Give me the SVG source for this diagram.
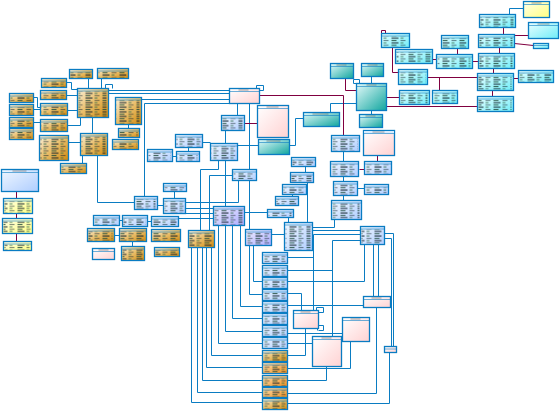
<svg xmlns="http://www.w3.org/2000/svg" width="560" height="411" viewBox="0 0 560 411">
<style>
.r{stroke:#0a7cc2;stroke-width:1.3}
.h{stroke:#0a7cc2;stroke-width:.6;fill:none}
.x{fill:url(#tx)}
.tt{fill:#555;opacity:.55}
.t .r{fill:url(#gt)}
.b .r{fill:url(#gb)}
.l .r{fill:url(#gl)}
.p .r{fill:url(#gp)}
.o .r{fill:url(#go)}
.c .r{fill:url(#gc)}
.g .r{fill:url(#gg)}
.y .r{fill:url(#gy)}
#conn path{fill:none;stroke:#0a7cc2;stroke-width:1}
#conn path.m{stroke:#800040}
</style>
<defs>
<linearGradient id="gt" x1="0" y1="0" x2="1" y2="1"><stop offset="0" stop-color="#fbf1dc"/><stop offset=".5" stop-color="#e9bd68"/><stop offset="1" stop-color="#cf880c"/></linearGradient>
<linearGradient id="gb" x1="0" y1="0" x2="1" y2="1"><stop offset="0" stop-color="#f0f7ff"/><stop offset="1" stop-color="#aecdff"/></linearGradient>
<linearGradient id="gl" x1="0" y1="0" x2="1" y2="1"><stop offset="0" stop-color="#f0f0ff"/><stop offset="1" stop-color="#acacff"/></linearGradient>
<linearGradient id="gp" x1="0" y1="0" x2="1" y2="1"><stop offset="0" stop-color="#ffffff"/><stop offset="1" stop-color="#ffd2d2"/></linearGradient>
<linearGradient id="go" x1="0" y1="0" x2="1" y2="1"><stop offset="0" stop-color="#fde2b8"/><stop offset="1" stop-color="#ee8e1c"/></linearGradient>
<linearGradient id="gc" x1="0" y1="0" x2="1" y2="1"><stop offset="0" stop-color="#eaffff"/><stop offset="1" stop-color="#6eecf8"/></linearGradient>
<linearGradient id="gg" x1="0" y1="0" x2="1" y2="1"><stop offset="0" stop-color="#e4fafa"/><stop offset="1" stop-color="#0fa59e"/></linearGradient>
<linearGradient id="gy" x1="0" y1="0" x2="1" y2="1"><stop offset="0" stop-color="#ffffea"/><stop offset="1" stop-color="#ffff80"/></linearGradient>
<pattern id="tx" width="17" height="4.6" patternUnits="userSpaceOnUse"><rect x="0" y=".4" width="7" height="1.1" fill="#10202c" opacity=".85"/><rect x="9" y=".4" width="3" height="1.1" fill="#2c6a48" opacity=".7"/><rect x="0" y="2.7" width="5" height="1.1" fill="#1c4a38" opacity=".8"/><rect x="9" y="2.7" width="5" height="1.1" fill="#10202c" opacity=".5"/></pattern>
</defs>
<g transform="translate(.5,.5)">
<g id="conn">
<path d="M66 82H71V89H77"/><path d="M88 78V88"/><path d="M101 78V88"/><path d="M66 95H77"/>
<path d="M33 97H37V107H40"/><path d="M33 109H40"/><path d="M67 110H77"/><path d="M33 122H40"/>
<path d="M67 125H80V117"/><path d="M92 117V133"/><path d="M68 142H80"/><path d="M82 155V163"/>
<path d="M105 88V84H112V88"/><path d="M108 90H229"/><path d="M108 93H229"/><path d="M141 99H229"/>
<path d="M229 103H144V196"/><path d="M128 124V128"/><path d="M97 155V202H134"/>
<path d="M119 220H122"/><path d="M114 235H119"/><path d="M132 241V246"/><path d="M147 221H151"/>
<path d="M157 205H163"/><path d="M174 191V198"/><path d="M172 156H176"/><path d="M188 147V151"/>
<path d="M202 142H210"/><path d="M237 145H258"/><path d="M237 103V115"/><path d="M249 103V229"/>
<path d="M225 130V143"/><path d="M225 160V206"/><path d="M218 160V169H200V230"/><path d="M232 175H209V230"/>
<path d="M185 202H238V180"/><path d="M185 208H213"/><path d="M185 213H213"/><path d="M178 218H213"/>
<path d="M244 212H267"/><path d="M271 234H284"/>
<path d="M253 245V281H262"/><path d="M249 245V294H262"/>
<path d="M240 225V306H262"/><path d="M232 225V318H262"/><path d="M225 225V331H262"/><path d="M218 225V343H262"/>
<path d="M211 247V355H262"/><path d="M206 247V367H262"/><path d="M202 247V380H262"/><path d="M197 247V392H262"/><path d="M191 247V402H262"/>
<path d="M287 257H313"/><path d="M287 270H332"/><path d="M287 281H364V244"/>
<path d="M312 227H334V219"/><path d="M312 230H360"/><path d="M360 234H313V310"/><path d="M360 240H332V336"/>
<path d="M384 233H393V346"/><path d="M384 238H391V346"/><path d="M373 244V296"/><path d="M378 244V296"/>
<path d="M287 293H301V310"/><path d="M287 305H363"/><path d="M305 328V355H287"/><path d="M287 333H342"/>
<path d="M287 343H312"/><path d="M287 368H350V341"/><path d="M287 380H326V366"/><path d="M287 393H376V307"/><path d="M287 403H389V352"/>
<path d="M316 312V307H323V312H318"/><path d="M317 330V325H323V330H318"/>
<path d="M343 151V161"/><path d="M343 176V181"/><path d="M357 188H364"/><path d="M343 195V200"/>
<path d="M305 166V172"/><path d="M307 182V222"/><path d="M292 194V196"/><path d="M288 217V222"/>
<path d="M289 145H295V118H303"/><path d="M330 112V103H356"/><path d="M371 76V83"/><path d="M371 110V114"/>
<path d="M356 83H353V79H359V83"/><path d="M509 14V8H523"/><path d="M256 88V85H263V90H259"/>
<path class="m" d="M259 95H343V135"/><path class="m" d="M244 123H257"/><path class="m" d="M359 169H364"/><path class="m" d="M377 155V161"/>
<path class="m" d="M345 78V90H356"/><path class="m" d="M386 97H399"/><path class="m" d="M386 106H477"/><path class="m" d="M392 47V72H398"/>
<path class="m" d="M381 33V30H385V33"/><path class="m" d="M503 27V34"/><path class="m" d="M514 35H528"/><path class="m" d="M514 43L533 45"/>
<path class="m" d="M457 48V54"/><path class="m" d="M499 47V53"/><path class="m" d="M472 61H478"/><path class="m" d="M432 59H436"/>
<path class="m" d="M493 68V73"/><path class="m" d="M427 77H477"/><path class="m" d="M439 77V90"/><path class="m" d="M513 78H518"/>
<path class="m" d="M492 90V96"/><path class="m" d="M16 191V198"/><path class="m" d="M16 213V218"/><path class="m" d="M16 233V241"/>
</g>
<g id="t1" class="t"><rect class="r" x="69" y="69" width="23" height="9"/><path class="h" d="M69 71.5h23"/><rect class="x" x="70" y="72" width="20" height="5"/></g>
<g id="t2" class="t"><rect class="r" x="97" y="68" width="31" height="10"/><path class="h" d="M97 70.5h31"/><rect class="x" x="98" y="71" width="28" height="6"/></g>
<g id="t3" class="t"><rect class="r" x="41" y="78" width="25" height="9"/><path class="h" d="M41 80.5h25"/><rect class="x" x="42" y="81" width="22" height="5"/></g>
<g id="t4" class="t"><rect class="r" x="40" y="90" width="26" height="9"/><path class="h" d="M40 92.5h26"/><rect class="x" x="41" y="93" width="23" height="5"/></g>
<g id="t5" class="t"><rect class="r" x="9" y="93" width="24" height="9"/><path class="h" d="M9 95.5h24"/><rect class="x" x="10" y="96" width="21" height="5"/></g>
<g id="t6" class="t"><rect class="r" x="9" y="104" width="24" height="11"/><path class="h" d="M9 106.5h24"/><rect class="x" x="10" y="107" width="21" height="7"/></g>
<g id="t7" class="t"><rect class="r" x="40" y="103" width="27" height="12"/><path class="h" d="M40 105.5h27"/><rect class="x" x="41" y="106" width="24" height="8"/></g>
<g id="t8" class="t"><rect class="r" x="9" y="117" width="24" height="10"/><path class="h" d="M9 119.5h24"/><rect class="x" x="10" y="120" width="21" height="6"/></g>
<g id="t9" class="t"><rect class="r" x="40" y="119" width="27" height="12"/><path class="h" d="M40 121.5h27"/><rect class="x" x="41" y="122" width="24" height="8"/></g>
<g id="t10" class="t"><rect class="r" x="9" y="128" width="24" height="11"/><path class="h" d="M9 130.5h24"/><rect class="x" x="10" y="131" width="21" height="7"/></g>
<g id="t11" class="t"><rect class="r" x="77" y="88" width="31" height="29"/><path class="h" d="M77 90.5h31"/><rect class="x" x="78" y="91" width="28" height="25"/></g>
<g id="t12" class="t"><rect class="r" x="115" y="97" width="26" height="27"/><path class="h" d="M115 99.5h26"/><rect class="x" x="116" y="100" width="23" height="23"/></g>
<g id="t13" class="t"><rect class="r" x="118" y="128" width="21" height="9"/><path class="h" d="M118 130.5h21"/><rect class="x" x="119" y="131" width="18" height="5"/></g>
<g id="t14" class="t"><rect class="r" x="39" y="135" width="29" height="25"/><path class="h" d="M39 137.5h29"/><rect class="x" x="40" y="138" width="26" height="21"/></g>
<g id="t15" class="t"><rect class="r" x="80" y="133" width="27" height="22"/><path class="h" d="M80 135.5h27"/><rect class="x" x="81" y="136" width="24" height="18"/></g>
<g id="t16" class="t"><rect class="r" x="60" y="163" width="26" height="10"/><path class="h" d="M60 165.5h26"/><rect class="x" x="61" y="166" width="23" height="6"/></g>
<g id="t17" class="t"><rect class="r" x="112" y="139" width="26" height="10"/><path class="h" d="M112 141.5h26"/><rect class="x" x="113" y="142" width="23" height="6"/></g>
<g id="t18" class="t"><rect class="r" x="87" y="228" width="27" height="13"/><path class="h" d="M87 230.5h27"/><rect class="x" x="88" y="231" width="24" height="9"/></g>
<g id="t19" class="t"><rect class="r" x="119" y="228" width="27" height="13"/><path class="h" d="M119 230.5h27"/><rect class="x" x="120" y="231" width="24" height="9"/></g>
<g id="t20" class="t"><rect class="r" x="151" y="229" width="29" height="12"/><path class="h" d="M151 231.5h29"/><rect class="x" x="152" y="232" width="26" height="8"/></g>
<g id="t21" class="t"><rect class="r" x="154" y="247" width="25" height="9"/><path class="h" d="M154 249.5h25"/><rect class="x" x="155" y="250" width="22" height="5"/></g>
<g id="t22" class="t"><rect class="r" x="188" y="230" width="26" height="17"/><path class="h" d="M188 232.5h26"/><rect class="x" x="189" y="233" width="23" height="13"/></g>
<g id="t23" class="t"><rect class="r" x="121" y="246" width="23" height="14"/><path class="h" d="M121 248.5h23"/><rect class="x" x="122" y="249" width="20" height="10"/></g>
<g id="b1" class="b"><rect class="r" x="175" y="134" width="27" height="13"/><path class="h" d="M175 136.5h27"/><rect class="x" x="176" y="137" width="24" height="9"/></g>
<g id="b2" class="b"><rect class="r" x="147" y="149" width="25" height="12"/><path class="h" d="M147 151.5h25"/><rect class="x" x="148" y="152" width="22" height="8"/></g>
<g id="b3" class="b"><rect class="r" x="176" y="151" width="23" height="10"/><path class="h" d="M176 153.5h23"/><rect class="x" x="177" y="154" width="20" height="6"/></g>
<g id="b4" class="b"><rect class="r" x="210" y="143" width="27" height="17"/><path class="h" d="M210 145.5h27"/><rect class="x" x="211" y="146" width="24" height="13"/></g>
<g id="b5" class="b"><rect class="r" x="221" y="115" width="23" height="15"/><path class="h" d="M221 117.5h23"/><rect class="x" x="222" y="118" width="20" height="11"/></g>
<g id="b6" class="b"><rect class="r" x="232" y="169" width="24" height="11"/><path class="h" d="M232 171.5h24"/><rect class="x" x="233" y="172" width="21" height="7"/></g>
<g id="b7" class="b"><rect class="r" x="163" y="183" width="23" height="8"/><path class="h" d="M163 185.5h23"/><rect class="x" x="164" y="186" width="20" height="4"/></g>
<g id="b8" class="b"><rect class="r" x="134" y="196" width="23" height="13"/><path class="h" d="M134 198.5h23"/><rect class="x" x="135" y="199" width="20" height="9"/></g>
<g id="b9" class="b"><rect class="r" x="163" y="198" width="22" height="15"/><path class="h" d="M163 200.5h22"/><rect class="x" x="164" y="201" width="19" height="11"/></g>
<g id="b10" class="b"><rect class="r" x="122" y="215" width="25" height="11"/><path class="h" d="M122 217.5h25"/><rect class="x" x="123" y="218" width="22" height="7"/></g>
<g id="b11" class="b"><rect class="r" x="151" y="216" width="27" height="10"/><path class="h" d="M151 218.5h27"/><rect class="x" x="152" y="219" width="24" height="6"/></g>
<g id="b12" class="b"><rect class="r" x="93" y="215" width="26" height="10"/><path class="h" d="M93 217.5h26"/><rect class="x" x="94" y="218" width="23" height="6"/></g>
<g id="b13" class="b"><rect class="r" x="331" y="135" width="28" height="16"/><path class="h" d="M331 137.5h28"/><rect class="x" x="332" y="138" width="25" height="12"/></g>
<g id="b14" class="b"><rect class="r" x="330" y="161" width="28" height="15"/><path class="h" d="M330 163.5h28"/><rect class="x" x="331" y="164" width="25" height="11"/></g>
<g id="b15" class="b"><rect class="r" x="364" y="161" width="27" height="13"/><path class="h" d="M364 163.5h27"/><rect class="x" x="365" y="164" width="24" height="9"/></g>
<g id="b16" class="b"><rect class="r" x="333" y="181" width="24" height="14"/><path class="h" d="M333 183.5h24"/><rect class="x" x="334" y="184" width="21" height="10"/></g>
<g id="b17" class="b"><rect class="r" x="364" y="184" width="24" height="10"/><path class="h" d="M364 186.5h24"/><rect class="x" x="365" y="187" width="21" height="6"/></g>
<g id="b18" class="b"><rect class="r" x="331" y="200" width="30" height="19"/><path class="h" d="M331 202.5h30"/><rect class="x" x="332" y="203" width="27" height="15"/></g>
<g id="b19" class="b"><rect class="r" x="291" y="157" width="24" height="9"/><path class="h" d="M291 159.5h24"/><rect class="x" x="292" y="160" width="21" height="5"/></g>
<g id="b20" class="b"><rect class="r" x="290" y="172" width="23" height="10"/><path class="h" d="M290 174.5h23"/><rect class="x" x="291" y="175" width="20" height="6"/></g>
<g id="b21" class="b"><rect class="r" x="282" y="184" width="24" height="10"/><path class="h" d="M282 186.5h24"/><rect class="x" x="283" y="187" width="21" height="6"/></g>
<g id="b22" class="b"><rect class="r" x="275" y="196" width="23" height="9"/><path class="h" d="M275 198.5h23"/><rect class="x" x="276" y="199" width="20" height="5"/></g>
<g id="b23" class="b"><rect class="r" x="267" y="209" width="26" height="8"/><path class="h" d="M267 211.5h26"/><rect class="x" x="268" y="212" width="23" height="4"/></g>
<g id="b24" class="b"><rect class="r" x="284" y="222" width="28" height="28"/><path class="h" d="M284 224.5h28"/><rect class="x" x="285" y="225" width="25" height="24"/></g>
<g id="b25" class="b"><rect class="r" x="360" y="226" width="24" height="18"/><path class="h" d="M360 228.5h24"/><rect class="x" x="361" y="229" width="21" height="14"/></g>
<g id="s1" class="b"><rect class="r" x="262" y="252" width="25" height="11"/><path class="h" d="M262 254.5h25"/><rect class="x" x="263" y="255" width="22" height="7"/></g>
<g id="s2" class="b"><rect class="r" x="262" y="265" width="25" height="11"/><path class="h" d="M262 267.5h25"/><rect class="x" x="263" y="268" width="22" height="7"/></g>
<g id="s3" class="b"><rect class="r" x="262" y="277" width="25" height="11"/><path class="h" d="M262 279.5h25"/><rect class="x" x="263" y="280" width="22" height="7"/></g>
<g id="s4" class="b"><rect class="r" x="262" y="289" width="25" height="11"/><path class="h" d="M262 291.5h25"/><rect class="x" x="263" y="292" width="22" height="7"/></g>
<g id="s5" class="b"><rect class="r" x="262" y="301" width="25" height="11"/><path class="h" d="M262 303.5h25"/><rect class="x" x="263" y="304" width="22" height="7"/></g>
<g id="s6" class="b"><rect class="r" x="262" y="313" width="25" height="11"/><path class="h" d="M262 315.5h25"/><rect class="x" x="263" y="316" width="22" height="7"/></g>
<g id="s7" class="b"><rect class="r" x="262" y="325" width="25" height="11"/><path class="h" d="M262 327.5h25"/><rect class="x" x="263" y="328" width="22" height="7"/></g>
<g id="s8" class="b"><rect class="r" x="262" y="337" width="25" height="11"/><path class="h" d="M262 339.5h25"/><rect class="x" x="263" y="340" width="22" height="7"/></g>
<g id="o1" class="t"><rect class="r" x="262" y="350" width="25" height="11"/><path class="h" d="M262 352.5h25"/><rect class="x" x="263" y="353" width="22" height="7"/></g>
<g id="o2" class="o"><rect class="r" x="262" y="362" width="25" height="11"/><path class="h" d="M262 364.5h25"/><rect class="x" x="263" y="365" width="22" height="7"/></g>
<g id="o3" class="o"><rect class="r" x="262" y="375" width="25" height="11"/><path class="h" d="M262 377.5h25"/><rect class="x" x="263" y="378" width="22" height="7"/></g>
<g id="o4" class="o"><rect class="r" x="262" y="387" width="25" height="10"/><path class="h" d="M262 389.5h25"/><rect class="x" x="263" y="390" width="22" height="6"/></g>
<g id="o5" class="t"><rect class="r" x="262" y="398" width="25" height="11"/><path class="h" d="M262 400.5h25"/><rect class="x" x="263" y="401" width="22" height="7"/></g>
<g id="hb" class="b"><rect class="r" x="1" y="169" width="37" height="22"/><path class="h" d="M1 172h37"/><rect class="tt" x="12" y="170" width="14" height="1"/></g>
<g id="l1" class="l"><rect class="r" x="213" y="206" width="31" height="19"/><path class="h" d="M213 208.5h31"/><rect class="x" x="214" y="209" width="28" height="15"/></g>
<g id="l2" class="l"><rect class="r" x="245" y="229" width="26" height="16"/><path class="h" d="M245 231.5h26"/><rect class="x" x="246" y="232" width="23" height="12"/></g>
<g id="p1" class="p"><rect class="r" x="229" y="88" width="30" height="15"/><path class="h" d="M229 91h30"/><rect class="tt" x="238" y="89" width="10" height="1"/></g>
<g id="p2" class="p"><rect class="r" x="257" y="105" width="31" height="32"/><path class="h" d="M257 108h31"/><rect class="tt" x="266" y="106" width="12" height="1"/></g>
<g id="p3" class="p"><rect class="r" x="363" y="130" width="31" height="25"/><rect x="363.5" y="130.5" width="30" height="2.5" fill="#d8ecff"/><path class="h" d="M363 133h31"/><rect class="tt" x="372" y="131" width="12" height="1"/></g>
<g id="p4" class="p"><rect class="r" x="92" y="248" width="22" height="11"/><path class="h" d="M92 251h22"/><rect class="tt" x="98" y="249" width="10" height="1"/></g>
<g id="p5" class="p"><rect class="r" x="293" y="310" width="25" height="18"/><path class="h" d="M293 313h25"/><rect class="tt" x="300" y="311" width="10" height="1"/></g>
<g id="p6" class="p"><rect class="r" x="342" y="317" width="27" height="24"/><path class="h" d="M342 320h27"/><rect class="tt" x="350" y="318" width="10" height="1" fill="#2a8"/></g>
<g id="p7" class="p"><rect class="r" x="312" y="336" width="29" height="30"/><path class="h" d="M312 339h29"/><rect class="tt" x="321" y="337" width="10" height="1"/></g>
<g id="p8" class="p"><rect class="r" x="363" y="296" width="27" height="11"/><path class="h" d="M363 299h27"/><rect class="tt" x="371" y="297" width="10" height="1"/></g>
<g id="p9" class="p"><rect class="r" x="384" y="346" width="12" height="6"/><path class="h" d="M384 348.5h12"/></g>
<g id="c1" class="c"><rect class="r" x="381" y="33" width="28" height="14"/><path class="h" d="M381 35.5h28"/><rect class="x" x="382" y="36" width="25" height="10"/></g>
<g id="c2" class="c"><rect class="r" x="395" y="49" width="37" height="14"/><path class="h" d="M395 51.5h37"/><rect class="x" x="396" y="52" width="34" height="10"/></g>
<g id="c3" class="c"><rect class="r" x="398" y="69" width="29" height="15"/><path class="h" d="M398 71.5h29"/><rect class="x" x="399" y="72" width="26" height="11"/></g>
<g id="c4" class="c"><rect class="r" x="399" y="90" width="30" height="14"/><path class="h" d="M399 92.5h30"/><rect class="x" x="400" y="93" width="27" height="10"/></g>
<g id="c5" class="c"><rect class="r" x="479" y="14" width="36" height="13"/><path class="h" d="M479 16.5h36"/><rect class="x" x="480" y="17" width="33" height="9"/></g>
<g id="c6" class="c"><rect class="r" x="528" y="22" width="30" height="16"/><path class="h" d="M528 25h30"/><rect class="tt" x="537" y="23" width="12" height="1"/></g>
<g id="c7" class="c"><rect class="r" x="478" y="34" width="36" height="13"/><path class="h" d="M478 36.5h36"/><rect class="x" x="479" y="37" width="33" height="9"/></g>
<g id="c8" class="c"><rect class="r" x="533" y="43" width="15" height="5"/><path class="h" d="M533 45h15"/></g>
<g id="c9" class="c"><rect class="r" x="441" y="35" width="27" height="13"/><path class="h" d="M441 37.5h27"/><rect class="x" x="442" y="38" width="24" height="9"/></g>
<g id="c10" class="c"><rect class="r" x="436" y="54" width="36" height="14"/><path class="h" d="M436 56.5h36"/><rect class="x" x="437" y="57" width="33" height="10"/></g>
<g id="c11" class="c"><rect class="r" x="478" y="53" width="36" height="15"/><path class="h" d="M478 55.5h36"/><rect class="x" x="479" y="56" width="33" height="11"/></g>
<g id="c12" class="c"><rect class="r" x="477" y="73" width="36" height="17"/><path class="h" d="M477 75.5h36"/><rect class="x" x="478" y="76" width="33" height="13"/></g>
<g id="c13" class="c"><rect class="r" x="518" y="70" width="35" height="12"/><path class="h" d="M518 72.5h35"/><rect class="x" x="519" y="73" width="32" height="8"/></g>
<g id="c14" class="c"><rect class="r" x="432" y="90" width="25" height="13"/><path class="h" d="M432 92.5h25"/><rect class="x" x="433" y="93" width="22" height="9"/></g>
<g id="c15" class="c"><rect class="r" x="477" y="96" width="36" height="15"/><path class="h" d="M477 98.5h36"/><rect class="x" x="478" y="99" width="33" height="11"/></g>
<g id="g1" class="g"><rect class="r" x="330" y="63" width="23" height="15"/><path class="h" d="M330 66h23"/><rect class="tt" x="336" y="64" width="10" height="1"/></g>
<g id="g2" class="g"><rect class="r" x="361" y="63" width="22" height="13"/><path class="h" d="M361 66h22"/><rect class="tt" x="367" y="64" width="10" height="1"/></g>
<g id="g3" class="g"><rect class="r" x="356" y="83" width="30" height="27"/><path class="h" d="M356 86h30"/><rect class="tt" x="366" y="84" width="10" height="1"/></g>
<g id="g4" class="g"><rect class="r" x="303" y="112" width="36" height="14"/><path class="h" d="M303 115h36"/><rect class="tt" x="312" y="113" width="16" height="1"/></g>
<g id="g5" class="g"><rect class="r" x="359" y="114" width="23" height="13"/><path class="h" d="M359 117h23"/><rect class="tt" x="365" y="115" width="10" height="1"/></g>
<g id="g6" class="g"><rect class="r" x="258" y="139" width="31" height="15"/><path class="h" d="M258 142h31"/><rect class="tt" x="266" y="140" width="14" height="1"/></g>
<g id="y1" class="y"><rect class="r" x="523" y="1" width="26" height="16"/><path class="h" d="M523 4h26"/><rect class="tt" x="531" y="2" width="10" height="1"/></g>
<g id="y2" class="y"><rect class="r" x="3" y="198" width="29" height="15"/><path class="h" d="M3 200.5h29"/><rect class="x" x="4" y="201" width="26" height="11"/></g>
<g id="y3" class="y"><rect class="r" x="2" y="218" width="30" height="15"/><path class="h" d="M2 220.5h30"/><rect class="x" x="3" y="221" width="27" height="11"/></g>
<g id="y4" class="y"><rect class="r" x="3" y="241" width="28" height="9"/><path class="h" d="M3 243.5h28"/><rect class="x" x="4" y="244" width="25" height="5"/></g>
</g>
</svg>
